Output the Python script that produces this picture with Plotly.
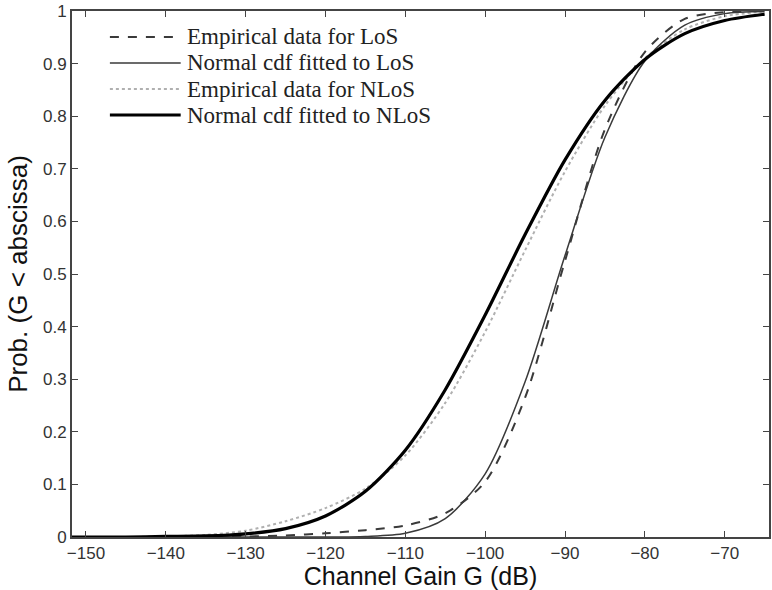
import plotly.graph_objects as go

# ---- data ----
gain_db = [-152, -145, -140, -135, -130, -125, -120, -115, -110, -105,
           -100, -95, -90, -85, -80, -75, -70, -65]

los_empirical = [0.000, 0.000, 0.000, 0.000, 0.001, 0.003, 0.007, 0.013, 0.022, 0.045,
                 0.105, 0.265, 0.525, 0.775, 0.922, 0.985, 0.998, 1.000]
los_normal = [0.000, 0.000, 0.000, 0.000, 0.000, 0.000, 0.000, 0.001, 0.007, 0.035,
              0.120, 0.295, 0.535, 0.760, 0.905, 0.973, 0.995, 0.999]
nlos_empirical = [0.000, 0.000, 0.001, 0.004, 0.012, 0.030, 0.055, 0.092, 0.155, 0.255,
                  0.390, 0.545, 0.695, 0.820, 0.910, 0.965, 0.990, 0.999]
nlos_normal = [0.000, 0.000, 0.001, 0.002, 0.006, 0.016, 0.040, 0.087, 0.165, 0.280,
               0.422, 0.575, 0.717, 0.830, 0.908, 0.957, 0.982, 0.994]

series_names = ["Empirical data for LoS", "Normal cdf fitted to LoS",
                "Empirical data for NLoS", "Normal cdf fitted to NLoS"]

x_ticks = [-150, -140, -130, -120, -110, -100, -90, -80, -70]
y_ticks = [0, 0.1, 0.2, 0.3, 0.4, 0.5, 0.6, 0.7, 0.8, 0.9, 1]
y_tick_text = ["0", "0.1", "0.2", "0.3", "0.4", "0.5", "0.6", "0.7", "0.8", "0.9", "1"]

styles = [
    dict(color="#3a3a3a", width=2, dash="dash"),
    dict(color="#3a3a3a", width=1.5, dash="solid"),
    dict(color="#b0b0b0", width=2, dash="dot"),
    dict(color="#000000", width=3.2, dash="solid"),
]
series = [los_empirical, los_normal, nlos_empirical, nlos_normal]

fig = go.Figure()
# draw order: light dotted first so dark lines stay on top
for idx in [2, 0, 1, 3]:
    fig.add_trace(go.Scatter(
        x=gain_db, y=series[idx], mode="lines", name=series_names[idx],
        line=dict(shape="spline", smoothing=0.8, **styles[idx]),
        showlegend=False, hoverinfo="skip"))

# custom legend (line samples + texts) placed like the reference
legend_rows_y = [37, 63, 89, 115]  # pixel rows
W, H = 772, 590
ml, mr, mt, mb = 72, 1, 11, 53
pw, ph = W - ml - mr, H - mt - mb


def to_paper_y(ypx):
    return 1 - (ypx - mt) / ph


for i, name in enumerate(series_names):
    yp = to_paper_y(legend_rows_y[i])
    fig.add_shape(type="line", xref="paper", yref="paper",
                  x0=(110 - ml) / pw, x1=(181 - ml) / pw, y0=yp, y1=yp,
                  line=dict(color=styles[i]["color"], width=styles[i]["width"],
                            dash=styles[i]["dash"]))
    fig.add_annotation(xref="paper", yref="paper", x=(186 - ml) / pw, y=yp,
                       text=name, showarrow=False, xanchor="left", yanchor="middle",
                       borderpad=0,
                       font=dict(family="Liberation Serif", size=23, color="#222"))

axis_common = dict(
    showline=True, linecolor="#444", linewidth=2, mirror="ticks",
    ticks="inside", ticklen=6, tickwidth=1.2, tickcolor="#444",
    showgrid=False, zeroline=False,
    tickfont=dict(family="Liberation Sans", size=17, color="#333"),
)

fig.update_layout(
    width=W, height=H,
    margin=dict(l=ml, r=mr, t=mt, b=mb),
    paper_bgcolor="white", plot_bgcolor="white",
    xaxis=dict(range=[-151.75, -64.45], tickvals=x_ticks,
               title=dict(text="Channel Gain G (dB)", standoff=0,
                          font=dict(family="Liberation Sans", size=25, color="#111")),
               **axis_common),
    yaxis=dict(range=[0, 1], tickvals=y_ticks, ticktext=y_tick_text,
               title=dict(text="Prob. (G < abscissa)", standoff=8,
                          font=dict(family="Liberation Sans", size=26, color="#111")),
               **axis_common),
)

fig.write_html("out.html")
